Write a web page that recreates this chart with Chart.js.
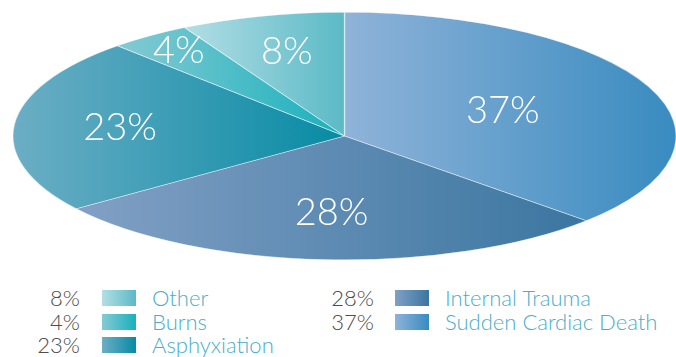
<!DOCTYPE html>
<html>
<head>
<meta charset="UTF-8">
<title>Causes of death</title>
<script src="https://cdn.jsdelivr.net/npm/chart.js"></script>
<style>
  body {
    margin: 0;
    width: 676px;
    height: 357px;
    background: #fff;
    position: relative;
    overflow: hidden;
    font-family: 'Lato', sans-serif;
    font-weight: 300;
  }
  #wrap {
    position: absolute;
    left: 0;
    top: 0;
    width: 676px;
    height: 272px;
  }
  .val, .name, .swatch {
    position: absolute;
    line-height: 24px;
    font-size: 22px;
    white-space: nowrap;
  }
  .val {
    color: #4d4d4d;
    text-align: right;
    width: 60px;
  }
  .name {
    color: #4aaecb;
  }
  .swatch {
    width: 34px;
    height: 16px;
  }
</style>
</head>
<body>
<div id="wrap"><canvas id="pie" width="676" height="272"></canvas></div>
<div id="legend"></div>

<script>
// slices, clockwise from 12 o'clock
const categories = ['Sudden Cardiac Death', 'Internal Trauma', 'Asphyxiation', 'Burns', 'Other'];
const shares = [37, 28, 23, 4, 8];
const lightColors = ['#8fb3d9', '#82a0c5', '#6caec5', '#86cad3', '#b3dee5'];
const darkColors = ['#388bc0', '#3a76a0', '#078ba4', '#17b1bc', '#5bbac6'];

// horizontal stretch that turns the round pie into a flat ellipse
const stretch = 2.68;
// how far out each percentage sits, as a share of the radius
const labelRadii = [0.52, 0.62, 0.68, 0.85, 0.7];

const total = shares.reduce((a, b) => a + b, 0);

// horizontal extent of a slice on the unit circle (0 = centre)
function sliceExtent(i) {
  const before = shares.slice(0, i).reduce((a, b) => a + b, 0);
  const a0 = before / total * Math.PI * 2;
  const a1 = (before + shares[i]) / total * Math.PI * 2;
  const xs = [0, Math.sin(a0), Math.sin(a1)];
  if (a0 <= Math.PI / 2 && a1 >= Math.PI / 2) xs.push(1);
  if (a0 <= Math.PI * 1.5 && a1 >= Math.PI * 1.5) xs.push(-1);
  return [Math.min(...xs), Math.max(...xs)];
}

function sliceFill(c) {
  const chart = c.chart;
  const area = chart.chartArea;
  const i = c.dataIndex;
  if (!area) return darkColors[i];
  const cx = (area.left + area.right) / 2;
  const r = Math.min(area.width, area.height) / 2;
  const [lo, hi] = sliceExtent(i);
  const g = chart.ctx.createLinearGradient(cx + r * lo, 0, cx + r * hi, 0);
  g.addColorStop(0, lightColors[i]);
  g.addColorStop(1, darkColors[i]);
  return g;
}

const ellipsePie = {
  id: 'ellipsePie',
  beforeDatasetsDraw(chart) {
    const arc = chart.getDatasetMeta(0).data[0];
    const ctx = chart.ctx;
    ctx.save();
    ctx.translate(arc.x, arc.y);
    ctx.scale(stretch, 1);
    ctx.translate(-arc.x, -arc.y);
  },
  afterDatasetsDraw(chart) {
    const ctx = chart.ctx;
    ctx.restore();

    ctx.save();
    ctx.fillStyle = '#fff';
    ctx.font = '300 38px Lato, sans-serif';
    ctx.textAlign = 'center';
    ctx.textBaseline = 'middle';
    chart.getDatasetMeta(0).data.forEach((arc, i) => {
      const mid = (arc.startAngle + arc.endAngle) / 2;
      const d = arc.outerRadius * labelRadii[i];
      const x = arc.x + Math.cos(mid) * d * stretch;
      const y = arc.y + Math.sin(mid) * d;
      ctx.fillText(shares[i] + '%', x, y);
    });
    ctx.restore();
  }
};

new Chart(document.getElementById('pie'), {
  type: 'pie',
  data: {
    labels: categories,
    datasets: [{
      data: shares,
      backgroundColor: sliceFill,
      borderColor: 'rgba(255,255,255,0.55)',
      borderWidth: 0.5
    }]
  },
  options: {
    responsive: false,
    animation: false,
    events: [],
    layout: { padding: { left: 13, right: 0, top: 12, bottom: 12 } },
    plugins: {
      legend: { display: false },
      tooltip: { enabled: false }
    }
  },
  plugins: [ellipsePie]
});

// legend: listed in reverse order, two columns
const legend = document.getElementById('legend');
const columns = [
  { valRight: 80, swatch: 102, name: 152 },
  { valRight: 374, swatch: 395, name: 445 }
];
const order = categories.map((_, i) => i).reverse();
order.forEach((i, n) => {
  const col = columns[n < 3 ? 0 : 1];
  const row = n < 3 ? n : n - 3;
  const top = 286 + row * 23.5;

  const val = document.createElement('div');
  val.className = 'val';
  val.textContent = shares[i] + '%';
  val.style.left = (col.valRight - 60) + 'px';
  val.style.top = top + 'px';

  const sw = document.createElement('div');
  sw.className = 'swatch';
  sw.style.left = col.swatch + 'px';
  sw.style.top = (top + 4) + 'px';
  sw.style.background = `linear-gradient(to right, ${lightColors[i]}, ${darkColors[i]})`;

  const name = document.createElement('div');
  name.className = 'name';
  name.textContent = categories[i];
  name.style.left = col.name + 'px';
  name.style.top = top + 'px';

  legend.append(val, sw, name);
});
</script>
</body>
</html>
